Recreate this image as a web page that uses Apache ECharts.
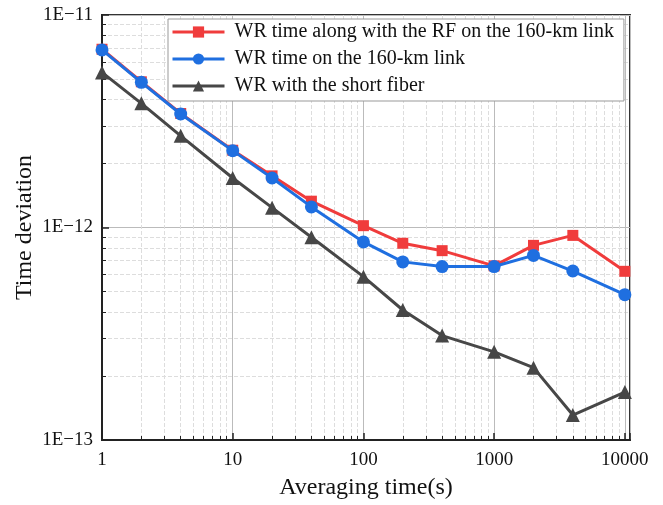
<!DOCTYPE html>
<html>
<head>
<meta charset="utf-8">
<script src="https://cdn.jsdelivr.net/npm/echarts@6/dist/echarts.min.js"></script>
<style>
  html, body { margin: 0; padding: 0; background: #fff; }
  #chart { width: 663px; height: 505px; }
</style>
</head>
<body>
<div id="chart"></div>
<script>
// averaging times (s)
const tau = [1, 2, 4, 10, 20, 40, 100, 200, 400, 1000, 2000, 4000, 10000];

// time deviation values
const wrRf = [6.9e-12, 4.85e-12, 3.44e-12, 2.31e-12, 1.75e-12, 1.33e-12, 1.02e-12,
  8.43e-13, 7.78e-13, 6.6e-13, 8.24e-13, 9.18e-13, 6.22e-13];
const wrLink = [6.85e-12, 4.82e-12, 3.42e-12, 2.3e-12, 1.71e-12, 1.25e-12, 8.55e-13,
  6.89e-13, 6.55e-13, 6.55e-13, 7.39e-13, 6.24e-13, 4.83e-13];
const wrShort = [5.37e-12, 3.84e-12, 2.7e-12, 1.71e-12, 1.24e-12, 9.0e-13, 5.87e-13,
  4.09e-13, 3.1e-13, 2.6e-13, 2.19e-13, 1.31e-13, 1.68e-13];

const seriesNames = [
  'WR time along with the RF on the 160-km link',
  'WR time on the 160-km link',
  'WR with the short fiber'
];

const font = 'Liberation Serif';

function pairs(vals) {
  return tau.map((t, i) => [t, vals[i]]);
}

function isPow10(v) {
  const e = Math.log10(v);
  return Math.abs(e - Math.round(e)) < 1e-6;
}

const chart = echarts.init(document.getElementById('chart'));

const option = {
  backgroundColor: '#fff',
  animation: false,
  grid: {
    left: 102, right: 33, top: 15, bottom: 65,
    show: true, borderColor: '#333', borderWidth: 2
  },
  legend: {
    left: 168, top: 19,
    orient: 'vertical',
    itemWidth: 52, itemHeight: 14, itemGap: 7,
    padding: [3, 10, 5, 3],
    backgroundColor: '#fff',
    borderColor: '#999', borderWidth: 1,
    lineStyle: { width: 3 },
    textStyle: {
      fontFamily: font, fontSize: 20, color: '#111',
      lineHeight: 20, padding: [0, 0, 0, 5]
    },
    data: seriesNames
  },
  xAxis: {
    type: 'log', logBase: 10,
    min: 1, max: 10950,
    name: 'Averaging time(s)',
    nameLocation: 'middle', nameGap: 36,
    nameMoveOverlap: false,
    nameTextStyle: { fontFamily: font, fontSize: 24, color: '#111' },
    axisLine: { lineStyle: { color: '#222', width: 2 } },
    axisTick: { inside: true, length: 7, lineStyle: { color: '#222', width: 1.5 } },
    minorTick: { show: true, splitNumber: 9, length: 4, lineStyle: { color: '#222' } },
    axisLabel: {
      fontFamily: font, fontSize: 19, color: '#111', margin: 11,
      formatter: v => isPow10(v) ? String(Math.round(v)) : ''
    },
    splitLine: { show: true, lineStyle: { color: '#bbb', width: 1 } },
    minorSplitLine: { show: true, lineStyle: { color: '#ddd', type: 'dashed' } }
  },
  yAxis: {
    type: 'log', logBase: 10,
    min: 1e-13, max: 1e-11,
    name: 'Time deviation',
    nameLocation: 'middle', nameGap: 65,
    nameMoveOverlap: false,
    nameTextStyle: { fontFamily: font, fontSize: 24, color: '#111' },
    axisLine: { lineStyle: { color: '#222', width: 2 } },
    axisTick: { inside: true, length: 7, lineStyle: { color: '#222', width: 1.5 } },
    minorTick: { show: true, splitNumber: 9, length: 4, lineStyle: { color: '#222' } },
    axisLabel: {
      fontFamily: font, fontSize: 19, color: '#111', margin: 9,
      formatter: v => '1E\u2212' + Math.round(-Math.log10(v))
    },
    splitLine: { show: true, lineStyle: { color: '#bbb', width: 1 } },
    minorSplitLine: { show: true, lineStyle: { color: '#ddd', type: 'dashed' } }
  },
  series: [
    {
      name: seriesNames[0], type: 'line', data: pairs(wrRf),
      symbol: 'rect', symbolSize: 11,
      lineStyle: { color: '#f03c3c', width: 3 },
      itemStyle: { color: '#f03c3c' }, z: 2
    },
    {
      name: seriesNames[1], type: 'line', data: pairs(wrLink),
      symbol: 'circle', symbolSize: 13,
      lineStyle: { color: '#1f6fe0', width: 3 },
      itemStyle: { color: '#1f6fe0' }, z: 3
    },
    {
      name: seriesNames[2], type: 'line', data: pairs(wrShort),
      symbol: 'triangle', symbolSize: 14,
      lineStyle: { color: '#474747', width: 3 },
      itemStyle: { color: '#474747' }, z: 1
    }
  ]
};

chart.setOption(option);
</script>
</body>
</html>
